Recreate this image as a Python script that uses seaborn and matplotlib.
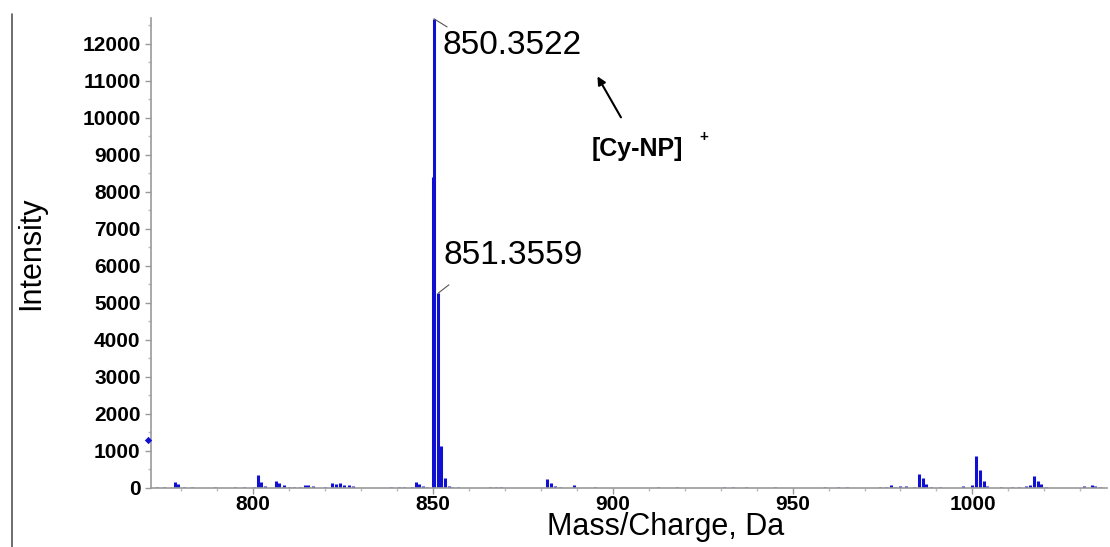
import numpy as np
import pandas as pd
import seaborn as sns
import matplotlib.pyplot as plt
from matplotlib.lines import Line2D
from matplotlib.ticker import MultipleLocator

# peak list (m/z, intensity)
mz = [773.5, 775.2, 778.3, 779.3, 780.8, 783.0, 789.5, 795.0, 797.6,
      800.2, 801.4, 802.4, 803.4, 806.4, 807.3, 808.8, 810.0, 811.5, 813.0,
      814.4, 815.3, 816.6, 820.2, 822.1, 823.1, 824.3, 825.3, 826.8, 827.8,
      838.5, 840.5, 842.0, 844.2, 845.3, 846.2, 847.3, 848.5,
      850.1, 850.35, 851.36, 852.4, 853.4, 854.4, 855.5, 857.0,
      865.8, 867.5, 869.0, 881.9, 882.9, 883.9, 885.3, 889.4, 895.0,
      912.5, 918.0, 931.0, 933.5, 937.0, 945.0, 959.0, 962.5, 965.0,
      974.2, 976.0, 977.5, 978.6, 980.0, 981.5, 983.7, 985.2, 986.2, 987.2,
      988.5, 991.0, 997.5, 1000.0, 1001.1, 1002.1, 1003.1, 1004.1,
      1008.0, 1011.0, 1013.0, 1015.0, 1016.0, 1017.1, 1018.1, 1019.1,
      1020.5, 1031.0, 1033.1, 1034.1, 1035.5]
intensity = [30, 25, 162, 100, 30, 25, 20, 25, 20,
             30, 351, 153, 45, 189, 135, 72, 36, 30, 36,
             81, 81, 54, 25, 126, 99, 126, 81, 72, 54,
             20, 25, 30, 36, 162, 99, 54, 30,
             8400, 12680, 5270, 1143, 270, 63, 30, 20,
             36, 36, 20, 234, 126, 54, 36, 81, 20,
             20, 25, 20, 25, 20, 20, 25, 36, 30,
             36, 25, 72, 36, 50, 45, 36, 378, 270, 99,
             36, 25, 45, 81, 864, 477, 189, 63,
             25, 30, 36, 40, 72, 333, 189, 99,
             36, 40, 72, 54, 30]
spec = pd.DataFrame({'mz': mz, 'intensity': intensity})

y_ticks = list(range(0, 13000, 1000))
x_ticks = [800, 850, 900, 950, 1000]

sns.set_theme(style='ticks')
plt.rcParams['font.family'] = ['Liberation Sans', 'DejaVu Sans']
plt.rcParams['text.color'] = 'black'
plt.rcParams['axes.labelcolor'] = 'black'
plt.rcParams['xtick.labelcolor'] = 'black'
plt.rcParams['ytick.labelcolor'] = 'black'

fig = plt.figure(figsize=(11.1, 5.47), dpi=100)
ax = fig.add_axes([0.136, 0.108, 0.861, 0.859])

ax.vlines(spec['mz'], 0, spec['intensity'], color='#1010d0', linewidth=2.2)
# little base-peak marker on the y axis
sns.scatterplot(x=[771.0], y=[1300], marker='D', color='#1010d0', s=14,
                ax=ax, clip_on=False, linewidth=0, zorder=5)

ax.set_xlim(771.7, 1037.3)
ax.set_ylim(0, 12700)
ax.set_xticks(x_ticks)
ax.set_yticks(y_ticks)
ax.xaxis.set_minor_locator(MultipleLocator(10))
ax.yaxis.set_minor_locator(MultipleLocator(500))
ax.tick_params(axis='both', which='major', labelsize=15, length=4, color='#999999', width=1)
ax.tick_params(axis='x', which='major', pad=1)
ax.tick_params(axis='both', which='minor', length=2, color='#bbbbbb', width=1)
for t in ax.get_xticklabels() + ax.get_yticklabels():
    t.set_fontweight('bold')
for s in ['top', 'right']:
    ax.spines[s].set_visible(False)
for s in ['left', 'bottom']:
    ax.spines[s].set_color('#999999')
    ax.spines[s].set_linewidth(1.2)

ax.set_xlabel('Mass/Charge, Da', fontsize=22)
ax.xaxis.set_label_coords(0.539, -0.051)
ax.set_ylabel('Intensity', fontsize=22, labelpad=26)

# peak labels with leader lines
ax.plot([850.35, 854.0], [12680, 12460], color='#555555', linewidth=0.8)
ax.text(852.6, 11970, '850.3522', fontsize=24, va='center', ha='left')
ax.plot([851.6, 854.5], [5270, 5490], color='#555555', linewidth=0.8)
ax.text(853.1, 6270, '851.3559', fontsize=24, va='center', ha='left')

ax.annotate('', xy=(895.4, 11190), xytext=(902.7, 9950),
            arrowprops=dict(arrowstyle='-|>', color='black', lw=1.5, mutation_scale=12))
ax.text(894.3, 9160, '[Cy-NP]', fontsize=18, fontweight='bold', va='center', ha='left')
ax.text(924.0, 9480, '+', fontsize=11, fontweight='bold', va='center', ha='left')

fig.add_artist(Line2D([0.011, 0.011], [0.0, 0.975], color='#555555', linewidth=1.2))

fig.savefig('out.png', dpi=100)
